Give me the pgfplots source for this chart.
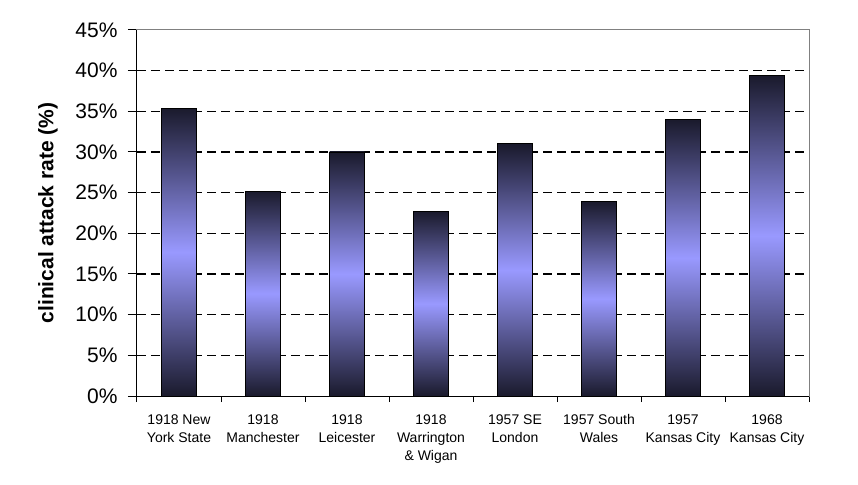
\documentclass[border=0pt]{standalone}
\usepackage{fontspec}
\setmainfont{Liberation Sans}
\usepackage{pgfplots}
\pgfplotsset{compat=1.18}
\definecolor{bardark}{HTML}{1A1A2C}
\definecolor{barlight}{HTML}{9999FF}
\definecolor{framegray}{HTML}{808080}
\begin{document}
\begin{tikzpicture}
\begin{axis}[
  scale only axis, width=672pt, height=366pt,
  xmin=0.5, xmax=8.5, ymin=0, ymax=45,
  ybar, bar width=35pt, clip=false,
  axis line style={framegray, line width=1pt},
  tick pos=left,
  ytick={0,5,...,45},
  yticklabels={0\%,5\%,10\%,15\%,20\%,25\%,30\%,35\%,40\%,45\%},
  yticklabel style={font=\fontsize{21}{25}\selectfont, xshift=-7pt},
  extra y ticks={5,10,...,40},
  extra y tick labels={},
  extra y tick style={grid=major},
  grid style={black, dash pattern=on 9pt off 5pt, line width=1.2pt},
  xtick={1,...,8},
  xticklabels={{1918 New\\York State},{1918\\Manchester},{1918\\Leicester},{1918\\Warrington\\\& Wigan},{1957 SE\\London},{1957 South\\Wales},{1957\\Kansas City},{1968\\Kansas City}},
  xticklabel style={align=center, font=\fontsize{14}{18}\selectfont, yshift=-6pt},
  minor xtick={0.5,1.5,...,8.5},
  major x tick style={draw=none},
  minor x tick style={black, line width=1pt},
  y tick style={black, line width=1pt},
  tick align=outside,
  major tick length=9pt,
  minor tick length=6pt,
  every axis y label/.style={at={(axis description cs:-0.1324,0.5)}, rotate=90, anchor=center, font=\fontsize{21}{25}\selectfont\bfseries},
  ylabel={clinical attack rate (\%)},
  mybar/.style={draw=black, line width=0.8pt, bar shift=0pt, top color=bardark, bottom color=bardark, middle color=barlight},
]
\addplot[mybar] coordinates {(1,35.4)};
\addplot[mybar] coordinates {(2,25.2)};
\addplot[mybar] coordinates {(3,30.0)};
\addplot[mybar] coordinates {(4,22.7)};
\addplot[mybar] coordinates {(5,31.0)};
\addplot[mybar] coordinates {(6,23.9)};
\addplot[mybar] coordinates {(7,34.0)};
\addplot[mybar] coordinates {(8,39.4)};
\draw[black, line width=1pt] (rel axis cs:0,1) -- (rel axis cs:0,0) -- (rel axis cs:1,0);
\coordinate (sw) at (rel axis cs:0,0);
\coordinate (ne) at (rel axis cs:1,1);
\end{axis}
\pgfresetboundingbox
\path[use as bounding box] ([shift={(-137pt,-88pt)}]sw) rectangle ([shift={(49pt,30pt)}]ne);
\end{tikzpicture}
\end{document}
